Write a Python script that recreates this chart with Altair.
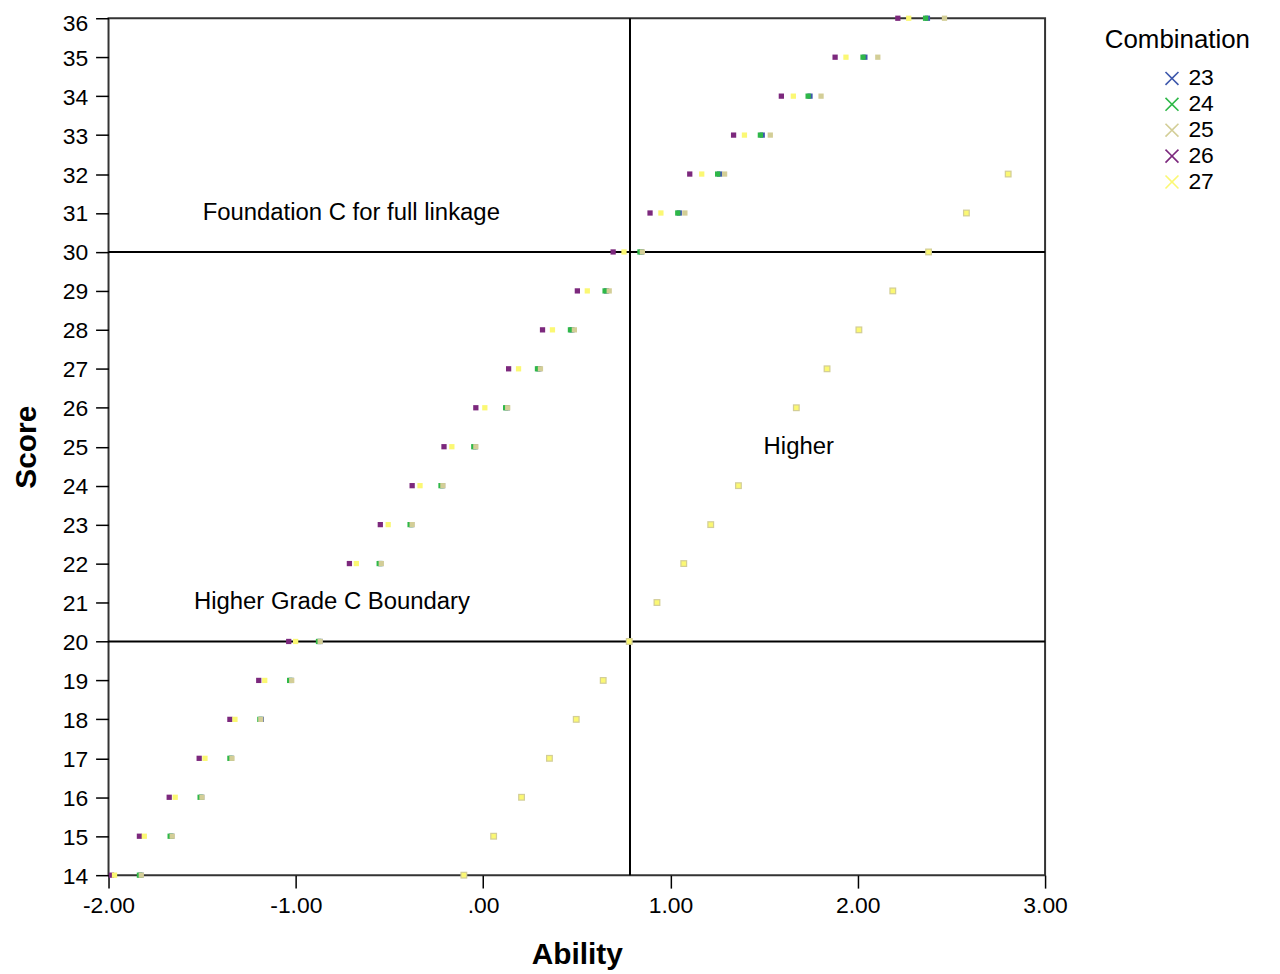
import altair as alt
import pandas as pd

# ---- data ----
combinations = ["23", "24", "25", "26", "27"]
combo_colors = ["#3E58AC", "#2EB848", "#D3CE97", "#7C287D", "#FBF873"]

scores = list(range(14, 37))
ability_26 = [-1.984, -1.835, -1.676, -1.516, -1.352, -1.198, -1.038, None,
              -0.714, -0.549, -0.379, -0.209, -0.039, 0.136, 0.317, 0.503,
              0.694, 0.891, 1.103, 1.337, 1.592, 1.879, 2.214]
ability_27 = [-1.968, -1.809, -1.644, -1.485, -1.325, -1.166, -1.001, None,
              -0.677, -0.507, -0.337, -0.167, 0.009, 0.189, 0.370, 0.556,
              0.752, 0.949, 1.167, 1.395, 1.656, 1.937, 2.272]
ability_24 = [-1.835, -1.671, -1.511, -1.352, -1.192, -1.033, -0.879, None,
              -0.555, -0.390, -0.225, -0.050, 0.120, 0.290, 0.466, 0.651,
              0.837, 1.039, 1.252, 1.480, 1.735, 2.028, 2.362]
ability_23 = [-1.827, -1.663, -1.503, -1.344, -1.184, -1.025, -0.871, None,
              -0.547, -0.382, -0.217, -0.042, 0.128, 0.298, 0.474, 0.659,
              0.845, 1.047, 1.262, 1.490, 1.745, 2.038, 2.372]
ability_25 = [-1.825, -1.660, -1.501, -1.341, -1.187, -1.022, -0.870, None,
              -0.544, -0.379, -0.215, -0.039, 0.131, 0.306, 0.487, 0.673,
              0.850, 1.077, 1.289, 1.533, 1.804, 2.107, 2.463]

higher_scores = [14, 15, 16, 17, 18, 19, 20, 21, 22, 23, 24, 26, 27, 28, 29, 30, 31, 32]
higher_ability = [-0.103, 0.056, 0.205, 0.354, 0.497, 0.641, 0.780, 0.928, 1.071,
                  1.215, 1.363, 1.672, 1.836, 2.006, 2.187, 2.378, 2.580, 2.803]

boundary_scores = [20, 30]
linkage_ability = [0.784]

note_texts = ["Foundation C for full linkage", "Higher Grade C Boundary", "Higher"]
note_ability = [-0.704, -0.807, 1.685]
note_scores = [31, 21, 25]

x_ticks = [-2, -1, 0, 1, 2, 3]
y_ticks = list(range(14, 37))

# ---- tables ----
rows = []
for combo, vals in [("23", ability_23), ("24", ability_24), ("25", ability_25),
                    ("26", ability_26), ("27", ability_27)]:
    for s, v in zip(scores, vals):
        if v is not None:
            rows.append({"Combination": combo, "Score": s, "Ability": v})
df = pd.DataFrame(rows)

hi25 = pd.DataFrame({"Combination": "25", "Score": higher_scores, "Ability": higher_ability})
hi27 = pd.DataFrame({"Combination": "27", "Score": higher_scores, "Ability": higher_ability})
hlines = pd.DataFrame({"Score": boundary_scores})
vlines = pd.DataFrame({"Ability": linkage_ability})
notes = pd.DataFrame({"Ability": note_ability, "Score": note_scores, "label": note_texts})

FONT = "Liberation Sans"
xs = alt.Scale(domain=[-2, 3], nice=False, zero=False)
ys = alt.Scale(domain=[14, 36], nice=False, zero=False)
cs = alt.Scale(domain=combinations, range=combo_colors)

x_enc = alt.X("Ability:Q", scale=xs, title="Ability",
              axis=alt.Axis(values=x_ticks, labelFlush=False,
                            labelExpr="datum.value == 0 ? '.00' : (datum.value < 0 ? '-' : '') + format(abs(datum.value), '.2f')",
                            labelPadding=7, titlePadding=22))
y_enc = alt.Y("Score:Q", scale=ys, title="Score",
              axis=alt.Axis(values=y_ticks, format="d", labelPadding=8, titlePadding=21,
                            labelOffset={"condition": {"test": "datum.value == 36", "value": 5},
                                         "value": 1}))

x_path = "M0,-0.16L0.84,-1L1,-0.84L0.16,0L1,0.84L0.84,1L0,0.16L-0.84,1L-1,0.84L-0.16,0L-1,-0.84L-0.84,-1Z"

legend = alt.Legend(title="Combination", orient="none", legendX=1001, legendY=9,
                    symbolType=x_path, symbolSize=200, symbolOffset=56, labelOffset=5,
                    titleFontSize=26, titleFontWeight="normal", titleFont=FONT, titleColor="black",
                    labelFontSize=23, labelFont=FONT, labelColor="black",
                    rowPadding=2, titlePadding=14, padding=0, symbolStrokeWidth=0)

h_rules = alt.Chart(hlines).mark_rule(color="black", strokeWidth=2).encode(y=y_enc)
v_rules = alt.Chart(vlines).mark_rule(color="black", strokeWidth=2).encode(x=x_enc)

points = alt.Chart(df).mark_square(size=28, opacity=1).encode(
    x=x_enc, y=y_enc, color=alt.Color("Combination:N", scale=cs, legend=legend))
hi_back = alt.Chart(hi25).mark_square(size=48, opacity=1).encode(
    x=x_enc, y=y_enc, color=alt.Color("Combination:N", scale=cs, legend=legend))
hi_front = alt.Chart(hi27).mark_square(size=20, opacity=1).encode(
    x=x_enc, y=y_enc, color=alt.Color("Combination:N", scale=cs, legend=legend))

texts = alt.Chart(notes).mark_text(fontSize=24, font=FONT, color="black").encode(
    x=x_enc, y=y_enc, text="label:N")

chart = (h_rules + v_rules + points + hi_back + hi_front + texts).properties(
    width=941, height=861,
    autosize=alt.AutoSizeParams(type="none"),
    padding={"left": 101, "top": 8, "right": 228, "bottom": 97},
).configure_view(stroke="#333333", strokeWidth=2).configure_axis(
    grid=False, domain=False, ticks=True, tickSize=13, tickColor="black", tickWidth=1.5,
    labelFont=FONT, labelFontSize=23, labelColor="black",
    titleFont=FONT, titleFontSize=30, titleFontWeight="bold", titleColor="black",
)

chart.save("out.html", embed_options={"renderer": "svg", "actions": False})
